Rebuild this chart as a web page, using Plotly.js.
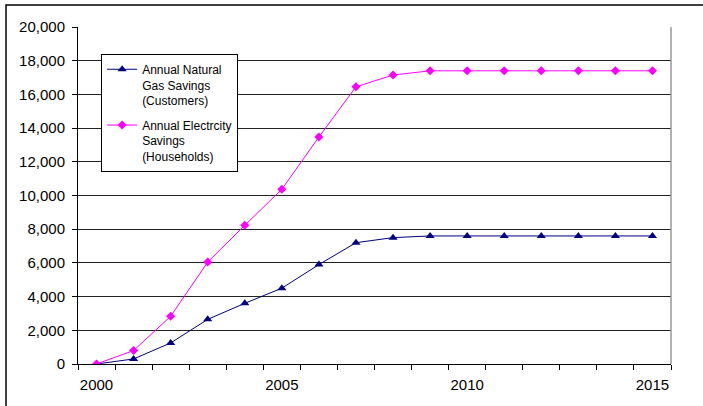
<!DOCTYPE html>
<html>
<head>
<meta charset="utf-8">
<script src="https://cdn.plot.ly/plotly-3.0.1.min.js"></script>
<style>html,body{margin:0;padding:0;background:#fff;}#chart{width:703px;height:406px;}</style>
</head>
<body>
<div id="chart"></div>
<script>
const years = [2000,2001,2002,2003,2004,2005,2006,2007,2008,2009,2010,2011,2012,2013,2014,2015];
const gasSavings = [0,300,1250,2650,3600,4500,5900,7200,7500,7600,7600,7600,7600,7600,7600,7600];
const elecSavings = [0,800,2830,6050,8230,10370,13470,16450,17150,17400,17400,17400,17400,17400,17400,17400];
const gasName = "Annual Natural<br>Gas Savings<br>(Customers)";
const elecName = "Annual Electrcity<br>Savings<br>(Households)";
const xTickVals = [2000,2005,2010,2015];
const yTickVals = [0,2000,4000,6000,8000,10000,12000,14000,16000,18000,20000];

const traces = [
  {x: years, y: gasSavings, name: gasName, legendgroup: 'g1', type: 'scatter', mode: 'lines+markers',
   line: {color: '#000080', width: 1}, marker: {symbol: 'triangle-up', size: 8, color: '#000080'}},
  {x: years, y: elecSavings, name: elecName, legendgroup: 'g2', type: 'scatter', mode: 'lines+markers',
   line: {color: '#FF00FF', width: 1}, marker: {symbol: 'diamond', size: 7, color: '#FF00FF'}}
];

const layout = {
  width: 703, height: 406,
  margin: {l: 78, r: 32, t: 27, b: 42},
  paper_bgcolor: '#fff', plot_bgcolor: '#fff',
  font: {family: 'Liberation Sans, Arial, sans-serif', size: 15, color: '#000'},
  showlegend: true,
  legend: {x: 0.039, y: 0.92, xanchor: 'left', yanchor: 'top', bgcolor: '#fff',
           bordercolor: '#000', borderwidth: 1, valign: 'top', traceorder: 'grouped', tracegroupgap: 6,
           font: {family: 'Liberation Sans, Arial, sans-serif', size: 12, color: '#000'}},
  xaxis: {range: [1999.5, 2015.5], tickmode: 'array', tickvals: xTickVals, ticktext: xTickVals.map(String),
          ticks: '', showgrid: false, zeroline: false, showline: true, linecolor: '#000', linewidth: 1,
          ticklabelstandoff: 7,
          minor: {tick0: 1999.5, dtick: 1, ticks: 'outside', ticklen: 5, tickcolor: '#000', showgrid: false},
          fixedrange: true},
  yaxis: {range: [0, 20000], tickmode: 'array', tickvals: yTickVals, ticktext: yTickVals.map(v => v.toLocaleString('en-US')),
          ticks: 'outside', ticklen: 5, tickcolor: '#000', showgrid: true, gridcolor: '#222', gridwidth: 1,
          zeroline: false, showline: true, linecolor: '#000', linewidth: 1, ticklabelstandoff: 4, fixedrange: true},
  shapes: [
    {type: 'line', xref: 'paper', yref: 'paper', x0: 1, x1: 1, y0: 0, y1: 1, line: {color: '#999', width: 1.5}},
    {type: 'rect', xref: 'paper', yref: 'paper', x0: -0.1214, x1: 1.2, y0: -0.3, y1: 1.065, line: {color: '#000', width: 1.5}, layer: 'below'}
  ]
};

Plotly.newPlot('chart', traces, layout, {displayModeBar: false, staticPlot: true});
</script>
</body>
</html>
